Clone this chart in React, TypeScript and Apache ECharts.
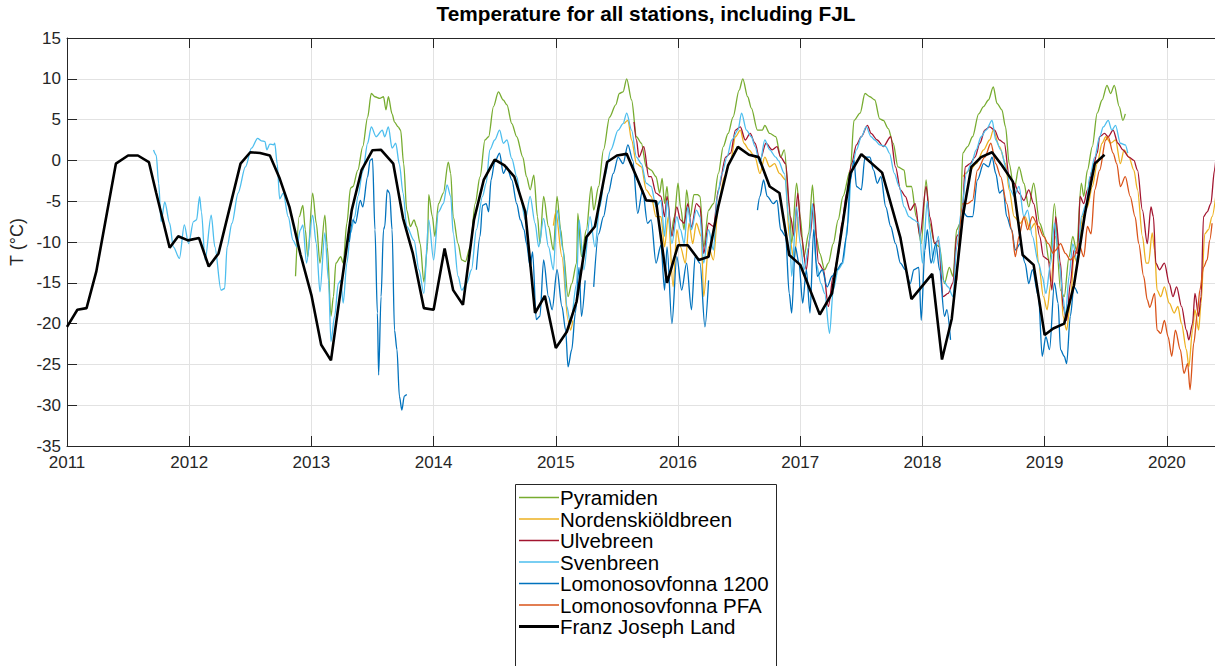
import React, { useEffect, useRef } from "react";
import * as echarts from "echarts";

type P = [number, number];

const titleText = "Temperature for all stations, including FJL";
const yAxisName = "T (°C)";
const xTickYears = [2011, 2012, 2013, 2014, 2015, 2016, 2017, 2018, 2019, 2020];

const seriesNames = [
  "Pyramiden",
  "Nordenskiöldbreen",
  "Ulvebreen",
  "Svenbreen",
  "Lomonosovfonna 1200",
  "Lomonosovfonna PFA",
  "Franz Joseph Land",
];

const pyramiden: P[][] = [[
  [2012.87,-14.2],[2012.90,-6.9],[2012.93,-5.5],[2012.95,-8.5],[2012.97,-11.8],[2013.01,-4.0],[2013.04,-7.7],[2013.07,-12.6],[2013.11,-6.7],[2013.13,-10.6],[2013.16,-19.1],[2013.18,-16.7],[2013.20,-12.6],[2013.24,-11.8],[2013.26,-12.6],[2013.29,-7.7],[2013.32,-3.4],[2013.34,-3.2],[2013.38,-1.2],[2013.42,1.7],[2013.46,5.3],[2013.49,8.2],[2013.52,7.8],[2013.56,7.6],[2013.59,7.8],[2013.61,6.2],[2013.63,7.8],[2013.66,5.7],[2013.68,4.7],[2013.71,4.1],[2013.73,3.7],[2013.755,-0.4],[2013.78,-6.1],[2013.81,-8.1],[2013.84,-7.3],[2013.86,-8.1],[2013.89,-10.2],[2013.92,-14.9],[2013.95,-10.6],[2013.96,-4.2],[2013.99,-6.9],[2014.01,-9.3],[2014.04,-5.3],[2014.08,-4.0],[2014.12,-0.2],[2014.14,-1.6],[2014.16,-6.9],[2014.20,-10.2],[2014.23,-12.2],[2014.26,-12.4],[2014.30,-10.6],[2014.34,-5.3],[2014.38,-2.0],[2014.42,2.5],[2014.45,2.9],[2014.49,6.6],[2014.53,8.4],[2014.57,7.4],[2014.60,6.8],[2014.64,4.5],[2014.68,2.9],[2014.73,0.4],[2014.76,-2.0],[2014.79,-3.6],[2014.82,-1.8],[2014.85,-6.9],[2014.87,-10.2],[2014.90,-4.4],[2014.94,-8.1],[2014.98,-11.0],[2015.01,-4.4],[2015.04,-8.5],[2015.06,-11.0],[2015.10,-16.7],[2015.13,-15.1],[2015.17,-12.6],[2015.18,-6.5],[2015.21,-11.8],[2015.25,-8.5],[2015.29,-3.2],[2015.31,-6.1],[2015.35,-3.2],[2015.39,1.3],[2015.44,5.3],[2015.49,6.8],[2015.52,8.2],[2015.55,8.4],[2015.58,10.0],[2015.62,7.4],[2015.66,2.9],[2015.70,2.1],[2015.74,-0.8],[2015.78,-1.2],[2015.82,-2.0],[2015.85,-4.0],[2015.87,-2.2],[2015.89,-5.3],[2015.91,-3.2],[2015.94,-9.3],[2015.97,-6.9],[2016.00,-2.8],[2016.02,-5.7],[2016.05,-8.5],[2016.07,-3.6],[2016.10,-6.9],[2016.13,-4.2],[2016.16,-4.2],[2016.18,-4.4],[2016.21,-10.6],[2016.25,-6.1],[2016.29,-5.3],[2016.33,-1.6],[2016.37,1.7],[2016.41,3.3],[2016.45,5.3],[2016.50,8.6],[2016.53,10.0],[2016.57,7.8],[2016.60,6.4],[2016.65,3.7],[2016.69,3.7],[2016.71,4.3],[2016.75,3.3],[2016.80,2.9],[2016.84,0.4],[2016.87,1.3],[2016.91,-5.3],[2016.93,-10.2],[2016.97,-2.8],[2017.00,-6.9],[2017.03,-11.8],[2017.07,-8.9],[2017.10,-3.0],[2017.13,-9.3],[2017.16,-11.4],[2017.20,-13.4],[2017.23,-12.6],[2017.27,-10.2],[2017.31,-7.3],[2017.35,-4.4],[2017.41,-1.2],[2017.44,4.9],[2017.49,5.8],[2017.53,8.2],[2017.57,7.8],[2017.61,7.4],[2017.65,5.1],[2017.68,4.9],[2017.72,3.9],[2017.76,2.1],[2017.80,-0.8],[2017.85,-1.2],[2017.87,-3.2],[2017.91,-3.2],[2017.95,-6.9],[2017.99,-10.2],[2018.03,-2.4],[2018.06,-7.7],[2018.10,-10.2],[2018.14,-10.6],[2018.18,-15.1],[2018.22,-13.1],[2018.25,-14.2],[2018.28,-8.5],[2018.31,-7.7],[2018.33,0.9],[2018.37,1.7],[2018.41,2.9],[2018.46,5.7],[2018.50,6.6],[2018.54,7.4],[2018.58,9.0],[2018.61,7.0],[2018.65,6.2],[2018.68,4.1],[2018.71,-0.4],[2018.75,-3.6],[2018.79,-0.8],[2018.83,-2.8],[2018.87,-5.7],[2018.91,-2.8],[2018.96,-7.7],[2019.00,-9.3],[2019.04,-12.6],[2019.08,-5.3],[2019.13,-15.9],[2019.16,-16.7],[2019.20,-11.8],[2019.23,-9.3],[2019.26,-11.0],[2019.30,-2.8],[2019.32,-4.4],[2019.35,-1.2],[2019.39,1.7],[2019.43,5.8],[2019.47,7.4],[2019.51,9.2],[2019.54,8.2],[2019.57,9.2],[2019.61,6.6],[2019.64,4.9],[2019.66,5.7],
]];

const nordenskiold: P[][] = [
  [[2014.98,-8.0],[2015.00,-6.3],[2015.05,-11.8],[2015.10,-19.6],[2015.12,-20.8],[2015.14,-19.6]],
  [[2015.56,4.5],[2015.59,4.9],[2015.62,2.5],[2015.66,-0.4],[2015.70,-0.8],[2015.74,-3.6],[2015.78,-4.4],[2015.82,-6.9],[2015.86,-6.9],[2015.89,-10.6],[2015.92,-6.9],[2015.96,-15.5],[2015.99,-8.5],[2016.02,-10.6],[2016.06,-12.6],[2016.09,-7.7],[2016.12,-10.2],[2016.15,-7.7],[2016.19,-9.3],[2016.21,-16.7],[2016.25,-10.6],[2016.29,-12.2],[2016.33,-5.3],[2016.38,-2.0],[2016.43,0.0],[2016.47,2.9],[2016.51,3.7],[2016.54,2.1],[2016.58,1.3],[2016.63,0.4],[2016.67,-1.6],[2016.71,0.4],[2016.75,-0.8],[2016.79,-0.4],[2016.83,-1.6],[2016.88,-2.4],[2016.91,-9.3],[2016.95,-12.2],[2016.98,-6.9]],
  [[2018.33,-2.0],[2018.39,-1.2],[2018.44,-0.4],[2018.50,1.3],[2018.55,2.5],[2018.58,3.7],[2018.63,1.7],[2018.68,-0.4],[2018.71,-3.6],[2018.75,-6.9],[2018.80,-7.7],[2018.84,-6.9],[2018.88,-8.5],[2018.92,-7.7],[2018.95,-12.6],[2018.99,-16.7],[2019.02,-18.3],[2019.05,-15.1],[2019.09,-9.3],[2019.13,-13.4],[2019.15,-19.1],[2019.18,-20.8],[2019.21,-17.5],[2019.24,-11.8],[2019.27,-12.6],[2019.31,-6.9],[2019.35,-5.7],[2019.39,-3.2],[2019.43,-0.4],[2019.47,2.1],[2019.50,2.9],[2019.54,2.1],[2019.58,2.5],[2019.62,-0.4],[2019.65,1.3],[2019.69,0.4],[2019.73,-1.2],[2019.76,-3.6],[2019.80,-9.3],[2019.83,-12.6],[2019.85,-12.6],[2019.88,-8.9],[2019.90,-11.0],[2019.92,-15.9],[2019.95,-16.7],[2019.98,-15.5],[2020.02,-17.5],[2020.06,-18.7],[2020.09,-17.9],[2020.12,-20.0],[2020.16,-23.2],[2020.18,-25.3],[2020.21,-20.8],[2020.23,-18.3],[2020.26,-20.8],[2020.28,-17.5],[2020.31,-9.0],[2020.34,-8.5],[2020.37,-6.9],[2020.40,-4.4]],
];

const ulvebreen: P[][] = [[
  [2015.64,4.7],[2015.66,2.5],[2015.68,0.4],[2015.72,1.7],[2015.76,-2.0],[2015.78,-2.0],[2015.82,-4.0],[2015.86,-4.4],[2015.89,-6.9],[2015.91,-4.4],[2015.95,-9.3],[2015.99,-5.7],[2016.02,-7.3],[2016.05,-7.7],[2016.08,-5.3],[2016.11,-8.2],[2016.15,-5.3],[2016.18,-5.7],[2016.21,-11.4],[2016.25,-7.7],[2016.29,-8.1],[2016.33,-3.6],[2016.39,0.4],[2016.43,0.9],[2016.47,3.7],[2016.51,4.1],[2016.55,2.5],[2016.59,3.3],[2016.63,2.1],[2016.67,0.0],[2016.72,2.1],[2016.77,1.3],[2016.81,1.7],[2016.84,0.4],[2016.88,-0.4],[2016.92,-6.9],[2016.95,-9.3],[2016.98,-4.0],[2017.01,-9.3],[2017.05,-13.4],[2017.08,-9.3],[2017.11,-5.3],[2017.15,-12.6],[2017.19,-13.4],[2017.23,-17.9],[2017.27,-14.2],[2017.31,-11.8],[2017.34,-7.7],[2017.38,-4.0],[2017.42,-0.4],[2017.46,1.9],[2017.50,2.9],[2017.55,4.3],[2017.58,3.3],[2017.63,2.5],[2017.68,1.7],[2017.74,2.9],[2017.78,-0.8],[2017.82,-3.6],[2017.86,-4.4],[2017.90,-6.1],[2017.94,-5.3],[2017.98,-9.3],[2018.03,-3.2],[2018.06,-6.9],[2018.10,-10.2],[2018.13,-9.8],[2018.17,-16.7],[2018.21,-16.3],[2018.25,-15.0],[2018.28,-9.3],[2018.32,-8.5],[2018.35,-0.8],[2018.39,-0.4],[2018.43,0.4],[2018.47,2.1],[2018.51,3.7],[2018.55,4.1],[2018.59,3.7],[2018.63,2.5],[2018.67,2.1],[2018.71,-2.0],[2018.75,-2.8],[2018.79,-4.0],[2018.83,-4.9],[2018.87,-3.6],[2018.91,-5.3],[2018.96,-9.3],[2018.99,-11.8],[2019.03,-12.2],[2019.06,-15.9],[2019.09,-6.9],[2019.13,-12.6],[2019.15,-17.9],[2019.18,-19.6],[2019.21,-15.1],[2019.24,-11.0],[2019.27,-11.4],[2019.29,-4.4],[2019.32,-5.3],[2019.35,-3.6],[2019.39,-1.2],[2019.43,0.9],[2019.45,2.9],[2019.49,3.3],[2019.52,2.9],[2019.56,3.7],[2019.60,2.1],[2019.64,1.3],[2019.69,0.4],[2019.73,0.0],[2019.76,-1.2],[2019.80,-6.1],[2019.84,-10.2],[2019.87,-5.7],[2019.89,-6.9],[2019.91,-12.6],[2019.94,-13.4],[2019.98,-12.6],[2020.02,-15.1],[2020.05,-16.7],[2020.08,-15.5],[2020.12,-17.9],[2020.16,-20.8],[2020.18,-22.0],[2020.21,-20.0],[2020.23,-16.3],[2020.26,-19.1],[2020.28,-16.7],[2020.30,-6.9],[2020.33,-6.3],[2020.36,-5.3],[2020.39,-1.2],[2020.40,0.0],
]];

const svenbreen: P[][] = [[
  [2011.708,1.27],[2011.73,0.65],[2011.75,-2.8],[2011.77,-7.5],[2011.80,-5.1],[2011.84,-7.7],[2011.87,-10.6],[2011.92,-12.0],[2011.96,-7.9],[2011.995,-10.2],[2012.035,-7.5],[2012.06,-7.3],[2012.085,-4.45],[2012.10,-6.3],[2012.13,-12.2],[2012.18,-6.7],[2012.21,-10.6],[2012.26,-15.9],[2012.29,-15.7],[2012.31,-10.6],[2012.35,-7.7],[2012.40,-4.0],[2012.46,-0.8],[2012.51,1.5],[2012.56,2.7],[2012.59,2.4],[2012.62,2.3],[2012.635,1.3],[2012.66,2.0],[2012.69,1.9],[2012.70,2.1],[2012.72,-0.4],[2012.74,-4.7],[2012.77,-4.0],[2012.81,-6.9],[2012.85,-9.8],[2012.88,-10.6],[2012.91,-8.5],[2012.93,-7.9],[2012.96,-12.6],[2013.01,-6.7],[2013.04,-10.2],[2013.07,-16.1],[2013.11,-8.9],[2013.14,-14.7],[2013.16,-22.2],[2013.19,-19.1],[2013.22,-15.1],[2013.24,-14.7],[2013.26,-17.5],[2013.29,-12.6],[2013.32,-8.9],[2013.355,-6.9],[2013.38,-4.4],[2013.42,-1.4],[2013.46,2.1],[2013.49,4.1],[2013.53,2.9],[2013.58,3.7],[2013.60,2.9],[2013.63,4.1],[2013.66,1.5],[2013.69,2.1],[2013.72,-0.5],[2013.75,-4.0],[2013.78,-8.1],[2013.84,-9.8],[2013.88,-13.4],[2013.92,-16.3],[2013.96,-7.3],[2014.00,-12.2],[2014.04,-6.3],[2014.08,-5.3],[2014.11,-3.0],[2014.14,-4.4],[2014.16,-8.9],[2014.20,-14.2],[2014.23,-15.9],[2014.27,-15.1],[2014.31,-13.4],[2014.35,-8.5],[2014.40,-4.4],[2014.43,-2.8],[2014.46,1.3],[2014.50,2.5],[2014.54,3.7],[2014.57,2.1],[2014.60,2.5],[2014.64,0.2],[2014.68,-2.0],[2014.71,-4.4],[2014.75,-7.3],[2014.79,-4.4],[2014.83,-7.7],[2014.86,-10.6],[2014.90,-7.1],[2014.94,-10.6],[2014.98,-13.4],[2015.01,-6.1],[2015.06,-11.0],[2015.09,-17.9],[2015.12,-20.0],[2015.17,-15.1],[2015.19,-7.3],[2015.23,-13.4],[2015.28,-6.9],[2015.32,-10.6],[2015.36,-5.7],[2015.40,-2.0],[2015.45,1.3],[2015.51,3.7],[2015.55,4.5],[2015.58,5.8],[2015.62,3.7],[2015.66,0.4],[2015.70,-0.4],[2015.74,-2.8],[2015.78,-3.2],[2015.82,-5.7],[2015.86,-4.9],[2015.89,-9.3],[2015.91,-4.9],[2015.95,-10.2],[2015.99,-6.9],[2016.02,-8.5],[2016.05,-10.2],[2016.08,-5.7],[2016.11,-8.5],[2016.15,-6.1],[2016.18,-6.9],[2016.21,-12.6],[2016.25,-8.5],[2016.29,-11.0],[2016.32,-4.4],[2016.36,-1.6],[2016.40,0.4],[2016.44,2.5],[2016.49,3.7],[2016.52,5.8],[2016.56,3.7],[2016.60,2.9],[2016.63,1.7],[2016.67,-0.4],[2016.71,2.5],[2016.75,1.3],[2016.80,0.4],[2016.82,0.0],[2016.87,-1.6],[2016.91,-7.7],[2016.93,-14.2],[2016.97,-5.7],[2017.00,-10.2],[2017.03,-13.4],[2017.07,-10.6],[2017.10,-5.3],[2017.13,-12.6],[2017.17,-15.1],[2017.20,-16.3],[2017.24,-21.2],[2017.27,-15.9],[2017.31,-13.4],[2017.35,-12.6],[2017.39,-7.7],[2017.42,-1.2],[2017.46,1.3],[2017.50,2.9],[2017.54,4.1],[2017.58,2.9],[2017.61,2.5],[2017.65,1.9],[2017.70,1.7],[2017.73,0.9],[2017.77,-1.6],[2017.81,-3.2],[2017.85,-5.7],[2017.89,-6.9],[2017.93,-7.3],[2017.97,-7.7],[2018.00,-12.6],[2018.04,-5.0],[2018.06,-8.5],[2018.09,-12.6],[2018.13,-9.3],[2018.17,-14.7],[2018.21,-15.5],[2018.25,-16.7],[2018.28,-10.6],[2018.32,-6.1],[2018.36,-1.6],[2018.40,-0.4],[2018.44,1.3],[2018.48,2.9],[2018.52,3.7],[2018.57,4.9],[2018.60,2.5],[2018.64,1.3],[2018.69,-1.2],[2018.72,-3.6],[2018.75,-4.4],[2018.79,-3.2],[2018.83,-6.9],[2018.86,-6.1],[2018.90,-9.3],[2018.95,-12.6],[2018.98,-14.2],[2019.01,-16.3],[2019.05,-12.6],[2019.08,-7.7],[2019.12,-12.6],[2019.15,-16.7],[2019.17,-19.1],[2019.20,-14.2],[2019.23,-10.2],[2019.27,-12.6],[2019.30,-6.9],[2019.34,-5.3],[2019.37,-2.0],[2019.41,0.4],[2019.45,2.9],[2019.48,4.1],[2019.52,4.9],[2019.55,3.7],[2019.58,4.3],[2019.62,2.1],[2019.66,1.9],[2019.68,0.9],
]];

const lomonosov1200: P[][] = [
  [[2013.31,-10.0],[2013.34,-7.3],[2013.36,-7.7],[2013.40,-4.9],[2013.42,-5.7],[2013.46,-2.0],[2013.48,0.0],[2013.50,0.2],[2013.52,-8.5],[2013.54,-18.7],[2013.55,-26.3],[2013.57,-16.7],[2013.59,-8.5],[2013.60,-8.1],[2013.62,-3.6],[2013.64,-4.0],[2013.66,-8.5],[2013.68,-20.8],[2013.70,-23.2],[2013.72,-28.9],[2013.74,-30.6],[2013.76,-28.9],[2013.78,-28.7]],
  [[2014.35,-13.4],[2014.38,-9.3],[2014.40,-5.5],[2014.43,-5.3],[2014.45,-6.3],[2014.47,-2.4],[2014.50,-0.2],[2014.54,0.9],[2014.57,-1.6],[2014.60,-0.8],[2014.64,-2.4],[2014.68,-5.3],[2014.71,-7.3],[2014.74,-8.5],[2014.76,-10.2],[2014.79,-13.0],[2014.81,-11.2],[2014.84,-19.5],[2014.87,-19.1],[2014.90,-12.2],[2014.94,-16.7],[2014.97,-18.3],[2015.01,-13.4],[2015.05,-17.9],[2015.08,-20.8],[2015.10,-25.3],[2015.13,-23.2],[2015.16,-18.7],[2015.19,-13.1],[2015.21,-19.1],[2015.24,-14.7]],
  [[2015.31,-15.5],[2015.35,-9.0],[2015.39,-6.9],[2015.43,-4.0],[2015.47,-1.6],[2015.51,0.4],[2015.55,-0.4],[2015.59,1.9],[2015.63,0.0],[2015.67,-6.5],[2015.71,-3.6],[2015.75,-7.7],[2015.78,-7.3],[2015.82,-12.6],[2015.86,-10.4],[2015.89,-15.9],[2015.91,-10.6],[2015.95,-20.0],[2015.99,-11.8],[2016.03,-15.9],[2016.07,-12.6],[2016.11,-18.3],[2016.14,-11.8],[2016.18,-12.6],[2016.22,-20.4],[2016.25,-14.7]],
  [[2016.65,-6.1],[2016.67,-4.4],[2016.70,-2.4],[2016.73,-4.4],[2016.78,-5.3],[2016.81,-4.9],[2016.84,-8.5],[2016.88,-9.3],[2016.91,-16.3],[2016.93,-18.7],[2016.96,-10.6],[2016.99,-12.6],[2017.02,-17.5],[2017.05,-13.4],[2017.08,-18.7],[2017.11,-8.5],[2017.14,-14.2],[2017.18,-13.4],[2017.22,-15.5],[2017.26,-14.2],[2017.30,-13.4],[2017.34,-12.6],[2017.38,-9.3],[2017.41,-2.4],[2017.44,0.0],[2017.46,-3.2],[2017.50,-3.6],[2017.53,0.4],[2017.57,0.4],[2017.60,-1.2],[2017.63,-2.8],[2017.66,-2.0],[2017.70,-5.7],[2017.74,-8.1],[2017.78,-10.2],[2017.82,-12.6],[2017.86,-13.4],[2017.90,-15.1],[2017.93,-13.4],[2017.97,-13.1],[2017.99,-19.6],[2018.02,-11.0],[2018.04,-8.5],[2018.07,-12.6],[2018.11,-10.2],[2018.14,-13.4],[2018.18,-19.1],[2018.20,-18.3],[2018.23,-22.0]],
  [[2018.33,-6.1],[2018.37,-6.9],[2018.41,-6.9],[2018.45,-2.4],[2018.50,-0.4],[2018.54,-0.8],[2018.57,0.4],[2018.60,-1.6],[2018.63,-4.0],[2018.66,-3.6],[2018.69,-6.9],[2018.73,-8.5],[2018.76,-11.0],[2018.80,-10.2],[2018.84,-12.6],[2018.87,-15.1],[2018.90,-13.4],[2018.95,-16.7],[2018.98,-24.0],[2019.01,-21.6],[2019.04,-23.2],[2019.08,-15.0],[2019.11,-17.5],[2019.13,-23.2],[2019.16,-24.0],[2019.18,-24.9],[2019.21,-19.1],[2019.24,-15.5],[2019.27,-16.3]],
];

const lomonosovPFA: P[][] = [[
  [2018.28,-14.7],[2018.33,-5.3],[2018.37,-5.3],[2018.41,-4.9],[2018.45,-1.2],[2018.51,0.4],[2018.56,2.1],[2018.60,-0.4],[2018.64,-2.0],[2018.69,-5.3],[2018.73,-8.5],[2018.76,-11.8],[2018.79,-9.3],[2018.83,-6.9],[2018.86,-8.5],[2018.90,-6.9],[2018.95,-8.1],[2018.99,-9.3],[2019.03,-10.2],[2019.07,-11.4],[2019.09,-11.0],[2019.13,-10.2],[2019.17,-11.4],[2019.21,-12.2],[2019.24,-11.8],[2019.28,-10.2],[2019.32,-11.8],[2019.35,-8.1],[2019.38,-9.0],[2019.41,-3.6],[2019.45,-1.2],[2019.50,2.5],[2019.52,2.9],[2019.56,0.9],[2019.59,-0.4],[2019.62,-3.2],[2019.66,-2.0],[2019.70,-4.4],[2019.74,-6.9],[2019.77,-10.2],[2019.81,-14.2],[2019.84,-17.1],[2019.86,-18.0],[2019.90,-16.3],[2019.92,-20.8],[2019.95,-21.2],[2019.98,-19.6],[2020.01,-21.6],[2020.04,-24.0],[2020.07,-20.8],[2020.11,-23.2],[2020.14,-26.1],[2020.17,-24.9],[2020.19,-28.1],[2020.22,-22.4],[2020.25,-18.7],[2020.27,-15.9],[2020.30,-13.1],[2020.33,-12.2],[2020.35,-9.8],[2020.37,-7.7],
]];

const franzJosephLand: P[][] = [[
  [2011.0,-20.4],[2011.085,-18.3],[2011.16,-18.1],[2011.24,-13.6],[2011.40,-0.4],[2011.50,0.6],[2011.58,0.6],[2011.67,-0.2],[2011.73,-4.0],[2011.84,-10.7],[2011.91,-9.3],[2011.99,-9.8],[2012.08,-9.5],[2012.16,-13.0],[2012.24,-11.4],[2012.42,-0.4],[2012.50,1.0],[2012.58,0.9],[2012.66,0.6],[2012.74,-2.2],[2012.82,-5.7],[2012.91,-11.5],[2013.0,-16.5],[2013.08,-22.6],[2013.16,-24.5],[2013.33,-6.1],[2013.41,-1.2],[2013.50,1.25],[2013.57,1.3],[2013.67,-0.4],[2013.75,-7.1],[2013.83,-11.4],[2013.92,-18.1],[2014.0,-18.3],[2014.09,-10.8],[2014.16,-15.9],[2014.24,-17.7],[2014.33,-7.3],[2014.41,-2.4],[2014.50,0.1],[2014.58,-0.6],[2014.66,-2.0],[2014.75,-6.3],[2014.83,-18.7],[2014.91,-16.6],[2015.0,-23.0],[2015.09,-21.0],[2015.17,-17.3],[2015.25,-9.4],[2015.32,-8.1],[2015.42,-0.2],[2015.50,0.6],[2015.58,0.8],[2015.66,-2.0],[2015.74,-4.9],[2015.82,-5.0],[2015.91,-15.0],[2016.0,-10.4],[2016.08,-10.4],[2016.17,-12.2],[2016.25,-11.8],[2016.33,-5.6],[2016.41,-0.6],[2016.49,1.65],[2016.58,0.7],[2016.66,0.4],[2016.75,-3.2],[2016.83,-4.0],[2016.91,-11.6],[2017.0,-12.8],[2017.16,-18.9],[2017.26,-16.3],[2017.41,-1.6],[2017.50,0.76],[2017.67,-1.5],[2017.82,-9.5],[2017.91,-17.0],[2018.08,-13.9],[2018.16,-24.4],[2018.24,-19.4],[2018.33,-6.9],[2018.40,-0.8],[2018.48,0.4],[2018.57,1.0],[2018.65,-0.6],[2018.74,-2.6],[2018.82,-11.6],[2018.91,-12.8],[2019.0,-21.4],[2019.07,-20.6],[2019.16,-20.0],[2019.24,-15.3],[2019.33,-6.5],[2019.41,-0.4],[2019.49,0.7],
]];

const seriesData = [pyramiden, nordenskiold, ulvebreen, svenbreen, lomonosov1200, lomonosovPFA, franzJosephLand];
const seriesColors = ["#77AC30", "#EDB120", "#A2142F", "#4DBEEE", "#0072BD", "#D95319", "#000000"];

function joinSegments(segs: P[][]): any[] {
  const out: any[] = [];
  segs.forEach((s, i) => {
    if (i > 0) {
      const prev = segs[i - 1];
      out.push([(prev[prev.length - 1][0] + s[0][0]) / 2, "-"]);
    }
    s.forEach((p) => out.push(p));
  });
  return out;
}

const FONT = "'Liberation Sans', Arial, Helvetica, sans-serif";
const AXIS_COLOR = "#262626";
const THIN_ICON = "path://M0,0M40,14M0,6.3H40V7.7H0Z";
const THICK_ICON = "path://M0,0M40,14M0,5.6H40V8.4H0Z";

export default function App() {
  const ref = useRef<HTMLDivElement>(null);
  useEffect(() => {
    if (!ref.current) return;
    const chart = echarts.init(ref.current, undefined, { renderer: "svg" });
    const xMin = xTickYears[0];
    const xMax = 2020.394;
    const series: any[] = seriesNames.map((name, i) => {
      const isFJL = i === seriesNames.length - 1;
      return {
        name,
        type: "line",
        xAxisIndex: 0,
        yAxisIndex: 0,
        data: joinSegments(seriesData[i]),
        symbol: "none",
        showSymbol: false,
        connectNulls: false,
        smooth: isFJL ? false : 0.3,
        smoothMonotone: "x",
        color: seriesColors[i],
        lineStyle: { color: seriesColors[i], width: isFJL ? 2.6 : 1.3 },
        itemStyle: { color: seriesColors[i] },
        emphasis: { disabled: true },
        silent: true,
      };
    });
    chart.setOption({
      animation: false,
      backgroundColor: "#ffffff",
      color: seriesColors,
      textStyle: { fontFamily: FONT },
      graphic: [
        {
          type: "rect",
          z: 1,
          shape: { x: 515.5, y: 484.5, width: 261, height: 200 },
          style: { fill: "#ffffff", stroke: AXIS_COLOR, lineWidth: 1 },
        },
        {
          type: "text",
          z: 5,
          x: 646,
          y: 13,
          style: {
            text: titleText,
            fill: "#000000",
            font: `bold 20.8px ${FONT}`,
            textAlign: "center",
            textVerticalAlign: "middle",
          },
        },
      ],
      legend: {
        show: true,
        orient: "vertical",
        left: 515,
        top: 487,
        padding: [0, 0, 0, 4],
        itemWidth: 40,
        itemHeight: 14,
        itemGap: 0.5,
        z: 10,
        data: seriesNames.map((name, i) => ({
          name,
          icon: i === seriesNames.length - 1 ? THICK_ICON : THIN_ICON,
          itemStyle: { color: seriesColors[i], borderColor: seriesColors[i], borderWidth: 0, opacity: 1 },
        })),
        textStyle: { fontSize: 20.5, lineHeight: 20, color: "#000000", fontFamily: FONT, padding: [0, 0, 0, -4] },
        selectedMode: false,
      },
      grid: {
        left: 67,
        right: 0,
        top: 38,
        bottom: 220,
        containLabel: false,
        outerBoundsMode: "none",
      },
      xAxis: [
        {
          type: "value",
          min: xMin,
          max: xMax,
          interval: 1,
          axisLine: { show: true, onZero: false, lineStyle: { color: AXIS_COLOR, width: 1 } },
          axisTick: { show: true, inside: true, length: 10, lineStyle: { color: AXIS_COLOR } },
          axisLabel: {
            show: true,
            margin: 8,
            fontSize: 17,
            color: AXIS_COLOR,
            fontFamily: FONT,
            showMaxLabel: false,
            formatter: (v: number) =>
              Math.abs(v - Math.round(v)) < 1e-6 && xTickYears.includes(Math.round(v)) ? String(Math.round(v)) : "",
          },
          splitLine: { show: true, lineStyle: { color: "#e2e2e2", width: 1 } },
        },
        {
          type: "value",
          position: "top",
          min: xMin,
          max: xMax,
          interval: 1,
          axisLine: { show: true, onZero: false, lineStyle: { color: AXIS_COLOR, width: 1 } },
          axisTick: { show: true, inside: true, length: 10, lineStyle: { color: AXIS_COLOR } },
          axisLabel: { show: false },
          splitLine: { show: false },
        },
      ],
      yAxis: {
        type: "value",
        min: -35,
        max: 15,
        interval: 5,
        name: yAxisName,
        nameLocation: "middle",
        nameGap: 25,
        nameRotate: 90,
        nameTextStyle: { fontSize: 18, color: AXIS_COLOR, fontFamily: FONT },
        axisLine: { show: true, onZero: false, lineStyle: { color: AXIS_COLOR, width: 1 } },
        axisTick: { show: true, inside: true, length: 10, lineStyle: { color: AXIS_COLOR } },
        axisLabel: { show: true, margin: 6, fontSize: 17, color: AXIS_COLOR, fontFamily: FONT },
        splitLine: { show: true, lineStyle: { color: "#e2e2e2", width: 1 } },
      },
      series,
    });
    return () => chart.dispose();
  }, []);
  return (
    <div
      ref={ref}
      style={{ position: "fixed", left: 0, top: 0, width: 1215, height: 666, background: "#fff" }}
    />
  );
}
